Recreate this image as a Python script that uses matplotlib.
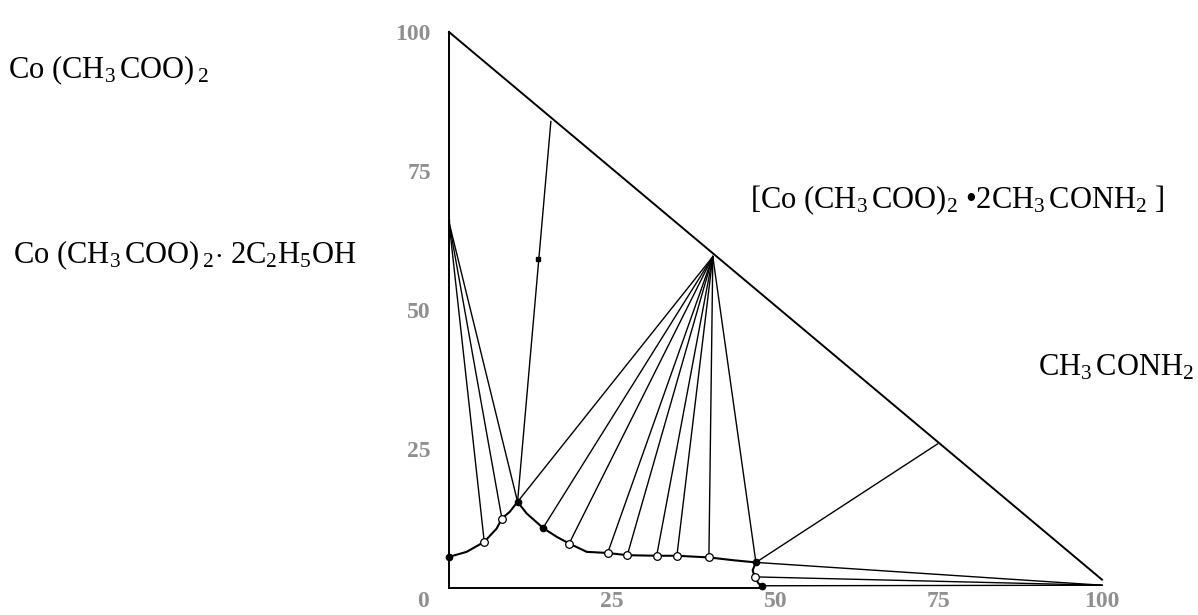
import matplotlib
matplotlib.use("Agg")
import matplotlib.pyplot as plt

plt.rcParams['font.family'] = ['Liberation Serif', 'DejaVu Serif']
plt.rcParams['mathtext.fontset'] = 'custom'
plt.rcParams['mathtext.rm'] = 'Liberation Serif'
plt.rcParams['mathtext.it'] = 'Liberation Serif:italic'
plt.rcParams['mathtext.bf'] = 'Liberation Serif:bold'

# courbe de solubilite (x = % CH3CONH2, y = % Co(CH3COO)2)
courbe_x = [0.0, 2.7, 5.4, 7.3, 8.1, 9.3, 10.5, 11.9, 14.4, 16.5, 18.4, 21.1, 24.3, 27.3,
            31.8, 34.9, 39.8, 43.5, 47.0, 46.5, 46.8, 47.4, 48.0]
courbe_y = [5.6, 6.5, 8.3, 10.7, 12.5, 13.7, 15.5, 13.4, 10.8, 9.2, 8.0, 6.5, 6.3, 5.9,
            5.8, 5.8, 5.5, 5.0, 4.6, 3.2, 2.0, 0.8, 0.4]

# points experimentaux
pleins_x = [0.0, 10.5, 14.4, 47.0, 48.0]
pleins_y = [5.6, 15.5, 10.8, 4.6, 0.4]
vides_x = [5.4, 8.1, 18.4, 24.3, 27.3, 31.8, 34.9, 39.8, 46.8]
vides_y = [8.3, 12.5, 8.0, 6.3, 5.9, 5.8, 5.8, 5.5, 2.0]

# phases solides
solvate = (0.0, 65.8)        # Co(CH3COO)2 . 2C2H5OH
compose = (40.4, 59.6)       # [Co(CH3COO)2 . 2CH3CONH2]
amide = (100.0, 0.5)         # CH3CONH2

# rayons vers les phases solides
rayons_solvate = [(5.4, 8.3), (8.1, 12.5), (10.5, 15.5)]
rayons_compose = [(10.5, 15.5), (14.4, 10.8), (18.4, 8.0), (24.3, 6.3), (27.3, 5.9),
                  (31.8, 5.8), (34.9, 5.8), (39.8, 5.5), (47.0, 4.6)]
rayons_amide = [(47.0, 4.6), (46.8, 2.0), (48.0, 0.4)]

# autres segments
hyp_x, hyp_y = [0, 100], [100, 1.5]
axe_v_x, axe_v_y = [0, 0], [0, 100]
base_x, base_y = [0, 48.0], [0, 0]
ligne_haut_x, ligne_haut_y = [15.6, 10.5], [83.9, 15.5]
carre = (13.7, 59.1)
ligne_bas_x, ligne_bas_y = [47.0, 74.8], [4.6, 25.9]

xticks = [25, 50, 75, 100]
yticks = [25, 50, 75, 100]

fig = plt.figure(figsize=(11.98, 6.15), dpi=100)
ax = fig.add_axes([449 / 1198, 1 - 588 / 615, 653 / 1198, 556 / 615])
ax.set_xlim(0, 100)
ax.set_ylim(0, 100)

kw = dict(color='black', lw=1.0, clip_on=False)
ax.plot(hyp_x, hyp_y, color='black', lw=1.4, clip_on=False)
ax.plot(axe_v_x, axe_v_y, color='black', lw=1.4, clip_on=False)
ax.plot(base_x, base_y, color='black', lw=1.4, clip_on=False)

for px, py in rayons_solvate:
    ax.plot([solvate[0], px], [solvate[1], py], **kw)
for px, py in rayons_compose:
    ax.plot([compose[0], px], [compose[1], py], **kw)
for px, py in rayons_amide:
    ax.plot([px, amide[0]], [py, amide[1]], **kw)

ax.plot(ligne_haut_x, ligne_haut_y, **kw)
ax.plot(ligne_bas_x, ligne_bas_y, **kw)
ax.plot([carre[0]], [carre[1]], marker='s', ms=3, color='black', clip_on=False)
ax.plot([solvate[0]], [solvate[1]], marker='|', ms=5, color='black', clip_on=False)

ax.plot(courbe_x, courbe_y, color='black', lw=1.5, clip_on=False)
ax.plot(pleins_x, pleins_y, 'o', ms=4.5, color='black', clip_on=False)
ax.plot(vides_x, vides_y, 'o', ms=5.5, mfc='white', mec='black', mew=0.9, clip_on=False)

for s in ax.spines.values():
    s.set_visible(False)
ax.set_xticks(xticks)
ax.set_yticks(yticks)
ax.tick_params(length=0, labelsize=17, labelcolor='#8f8f8f')
ax.tick_params(axis='x', pad=2)
ax.tick_params(axis='y', pad=13)
for lab in ax.get_xticklabels() + ax.get_yticklabels():
    lab.set_fontweight('bold')
ax.annotate('0', xy=(0, 0), xytext=(-19, -10), textcoords='offset points',
            ha='center', va='center', fontsize=17, color='#8f8f8f', fontweight='bold')

fs = 22
fig.text(8 / 1198, 1 - 70 / 615, r"Co (CH$_3$$\,$COO)$\,_2$", fontsize=fs, va='center')
fig.text(13 / 1198, 1 - 255 / 615, r"Co (CH$_3$$\,$COO)$\,_2$$\cdot$ 2C$_2$H$_5$OH", fontsize=fs, va='center')
fig.text(750 / 1198, 1 - 200 / 615, r"[Co (CH$_3$$\,$COO)$_2$ •2CH$_3$$\,$CONH$_2$ ]", fontsize=fs, va='center')
fig.text(1038 / 1198, 1 - 368 / 615, r"CH$_3$$\,$CONH$_2$", fontsize=fs, va='center')

fig.savefig("out.png", dpi=100)
